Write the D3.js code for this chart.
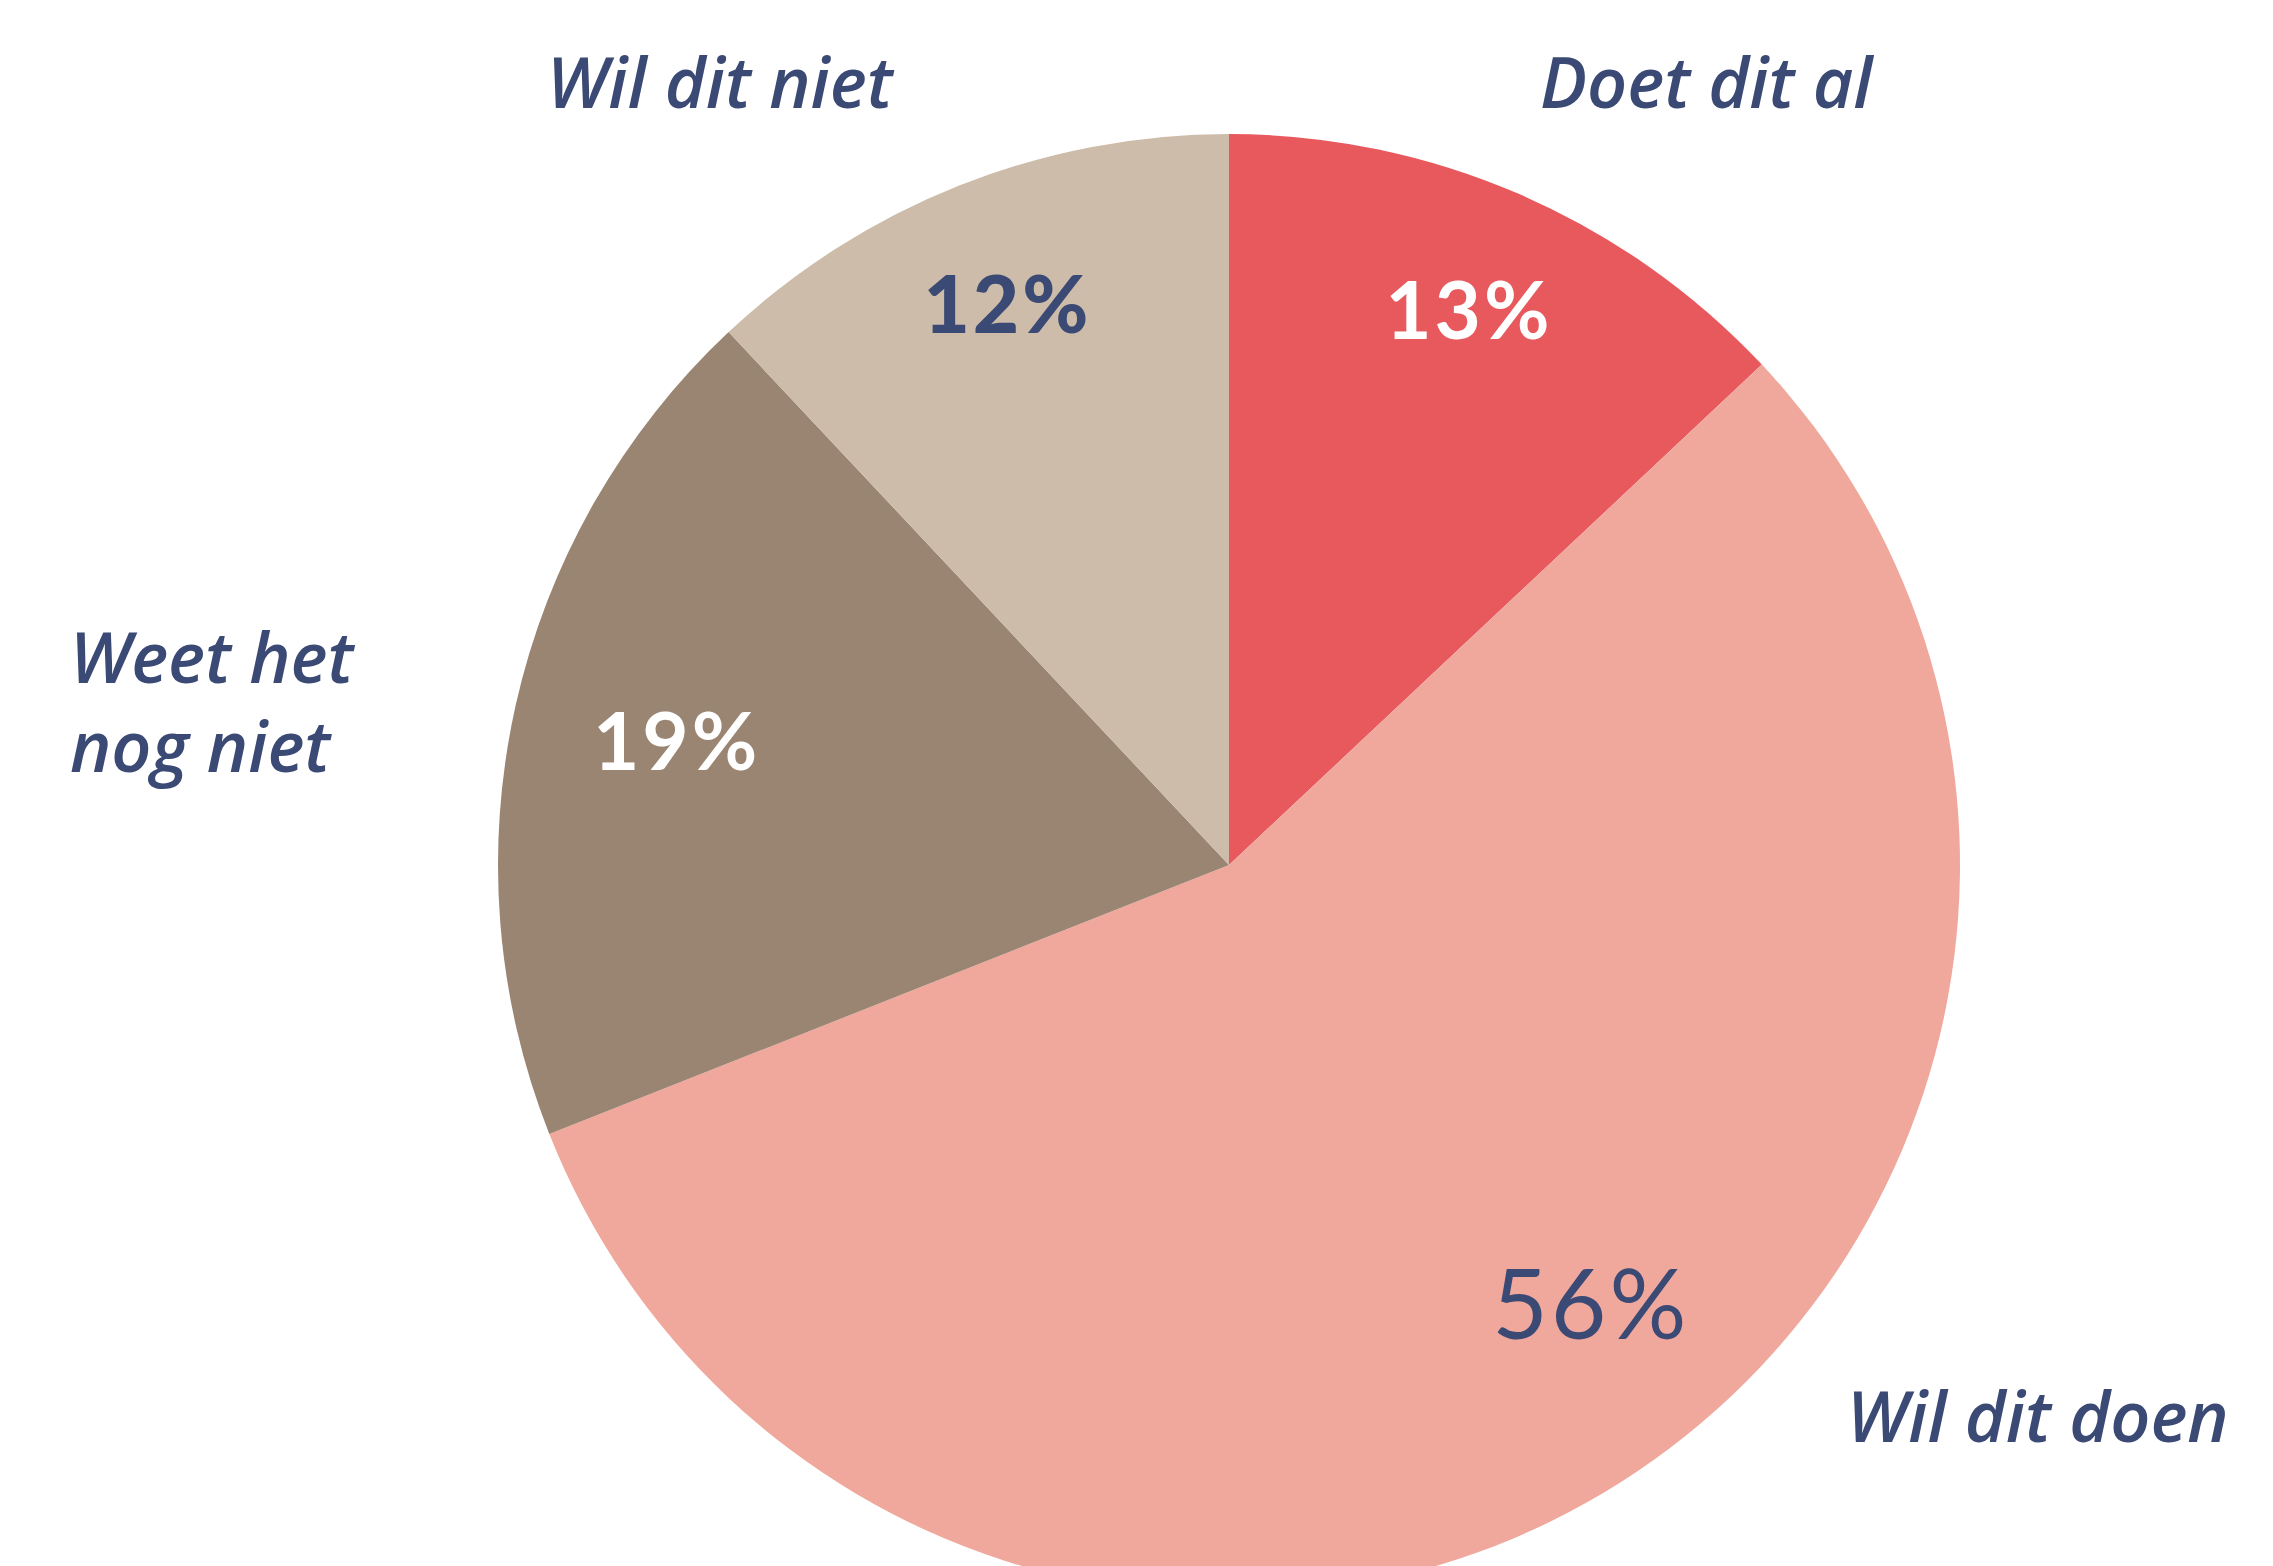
<!DOCTYPE html>
<html>
<head>
<meta charset="utf-8">
<script src="https://cdn.jsdelivr.net/npm/d3@7"></script>
<style>
  html, body { margin: 0; padding: 0; background: #fff; }
  svg { display: block; }
</style>
</head>
<body>
<div id="chart"></div>
<script>
// Data
const categories = ['Doet dit al', 'Wil dit doen', 'Weet het nog niet', 'Wil dit niet'];
const values = [13, 56, 19, 12];
const pctLabels = ['13%', '56%', '19%', '12%'];

// Set up sizes
const width = 2273;
const height = 1566;
const cx = 1229;
const cy = 865;
const radius = 731;

const colors = ['#E8595E', '#F0A89D', '#9A8472', '#CDBCA9'];
const darkBlue = '#3B4A74';
const pctFill = ['#ffffff', darkBlue, '#ffffff', darkBlue];
const pctWeight = [700, 400, 700, 900];
const pctSize = [80, 96, 80, 80];

// Label radius and small angular nudge (degrees) for the percentage labels
const pctRadius = [604, 570, 566, 602];
const pctNudge = [0, -7, 0, 0];

// Outer category labels, offset from the pie centre
const outerLabels = [
  { lines: ['Doet dit al'], dx: 311, dy: -757, anchor: 'start' },
  { lines: ['Wil dit doen'], dx: 618, dy: 577, anchor: 'start' },
  { lines: ['Weet het', 'nog niet'], dx: -1159, dy: -182, anchor: 'start' },
  { lines: ['Wil dit niet'], dx: -682, dy: -757, anchor: 'start' }
];

const data = categories.map((c, i) => ({ name: c, value: values[i], idx: i }));

const svg = d3.select('#chart')
  .append('svg')
  .attr('width', width)
  .attr('height', height)
  .style('font-family', 'Lato, "Open Sans", sans-serif');

svg.append('rect')
  .attr('width', width)
  .attr('height', height)
  .attr('fill', '#fff');

const g = svg.append('g')
  .attr('transform', `translate(${cx},${cy})`);

// Pie layout, clockwise from 12 o'clock in data order
const pie = d3.pie()
  .value(d => d.value)
  .sort(null);

const arc = d3.arc()
  .innerRadius(0)
  .outerRadius(radius);

const arcs = pie(data);

g.selectAll('path.slice')
  .data(arcs)
  .enter().append('path')
  .attr('class', 'slice')
  .attr('d', arc)
  .attr('fill', (d, i) => colors[i]);

// Percentage labels
g.selectAll('text.pct')
  .data(arcs)
  .enter().append('text')
  .attr('class', 'pct')
  .attr('transform', (d, i) => {
    const a = (d.startAngle + d.endAngle) / 2 + pctNudge[i] * Math.PI / 180;
    const r = pctRadius[i];
    return `translate(${r * Math.sin(a)},${-r * Math.cos(a)})`;
  })
  .attr('text-anchor', 'middle')
  .attr('dy', '0.35em')
  .attr('fill', (d, i) => pctFill[i])
  .style('font-weight', (d, i) => pctWeight[i])
  .style('font-size', (d, i) => pctSize[i] + 'px')
  .style('letter-spacing', '3px')
  .text((d, i) => pctLabels[i]);

// Category labels
outerLabels.forEach(l => {
  const t = g.append('text')
    .attr('x', l.dx)
    .attr('y', l.dy)
    .attr('text-anchor', l.anchor)
    .attr('fill', darkBlue)
    .style('font-family', '"Open Sans", Lato, sans-serif')
    .style('font-style', 'italic')
    .style('font-weight', 600)
    .style('font-size', '70px');
  l.lines.forEach((line, j) => {
    t.append('tspan')
      .attr('x', l.dx)
      .attr('dy', j === 0 ? 0 : 89)
      .text(line);
  });
});
</script>
</body>
</html>
